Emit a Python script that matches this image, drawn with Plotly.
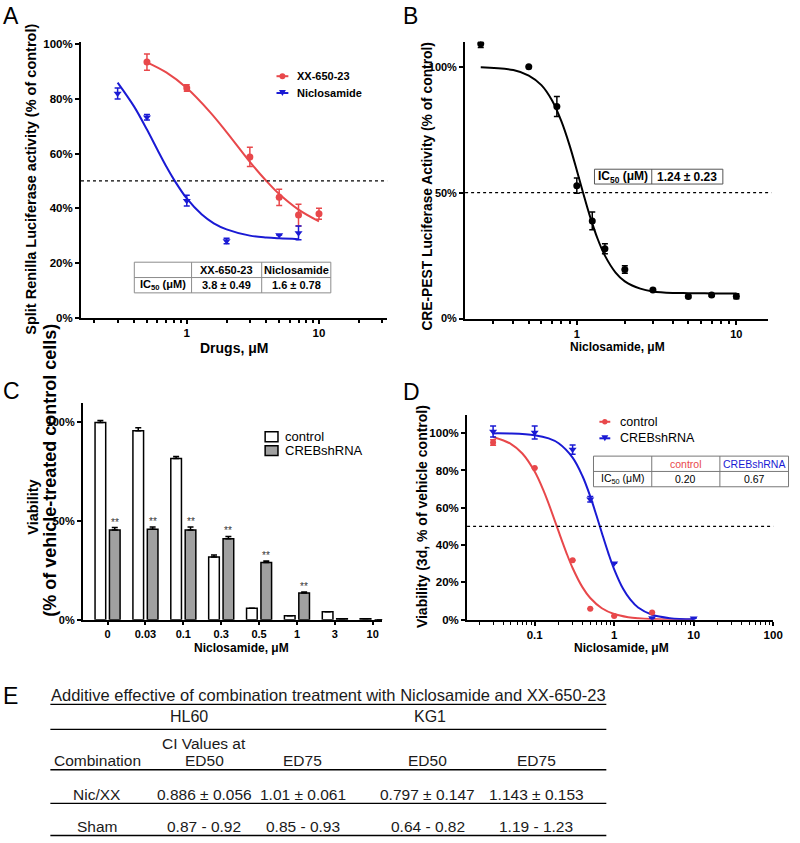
import plotly.graph_objects as go

W, H = 800, 843
FONT = "Liberation Sans, Arial, Helvetica, sans-serif"
RED = "#E8484B"
BLUE = "#1A1AD4"
GRAY = "#A0A0A0"

# ---------------- data ----------------
# Panel A
a_xx_conc = [0.5, 1, 3, 5, 7, 10]
a_xx_val = [93.5, 84.0, 58.8, 44.0, 37.5, 38.0]
a_xx_err = [3.0, 1.2, 3.5, 3.0, 4.0, 2.0]
a_xx_fit_conc = [0.5, 0.7, 1, 1.5, 2, 3, 4, 5, 7, 10]
a_xx_fit_val = [93.4, 89.7, 84.0, 75.2, 67.9, 57.0, 50.0, 45.2, 39.5, 35.2]
a_nic_conc = [0.3, 0.5, 1, 2, 5, 7]
a_nic_val = [82.0, 73.3, 42.8, 28.0, 30.2, 31.0]
a_nic_err = [2.0, 1.0, 2.0, 1.0, 0.0, 2.5]
a_nic_fit_conc = [0.3, 0.4, 0.5, 0.6, 0.7, 0.8, 1, 1.3, 1.6, 2, 3, 4, 5, 7]
a_nic_fit_val = [86.0, 77.2, 68.8, 61.4, 55.3, 50.5, 43.6, 37.7, 34.5, 32.3, 30.0, 29.3, 29.0, 28.7]
a_series = ["XX-650-23", "Niclosamide"]
a_ic50 = ["3.8 ± 0.49", "1.6 ± 0.78"]
a_x_ticks = [1, 10]
a_y_ticks = [0, 20, 40, 60, 80, 100]

# Panel B
b_conc = [0.25, 0.5, 0.75, 1.0, 1.25, 1.5, 2, 3, 5, 7, 10]
b_val = [109.1, 100.0, 84.2, 52.8, 38.8, 27.7, 19.5, 11.4, 8.8, 9.4, 8.9]
b_err = [1.5, 0.0, 4.0, 3.0, 3.5, 2.0, 1.5, 0.5, 0.5, 0.5, 1.0]
b_fit_conc = [0.25, 0.4, 0.5, 0.6, 0.7, 0.8, 0.9, 1.0, 1.1, 1.2, 1.35, 1.5, 1.75, 2, 2.5, 3, 4, 5, 7, 10]
b_fit_val = [99.8, 98.7, 96.5, 92.7, 86.6, 78.4, 68.9, 58.9, 49.5, 41.3, 31.7, 25.0, 18.3, 14.8, 11.9, 10.8, 10.2, 10.1, 10.0, 10.0]
b_ic50 = "1.24 ± 0.23"
b_x_ticks = [1, 10]
b_y_ticks = [0, 50, 100]

# Panel C
c_conc_labels = ["0", "0.03", "0.1", "0.3", "0.5", "1", "3", "10"]
c_control = [100.0, 95.8, 81.7, 31.8, 5.8, 2.0, 4.0, 0.5]
c_control_err = [1.0, 1.5, 1.0, 1.0, 0.0, 0.0, 0.0, 0.0]
c_creb = [45.5, 45.8, 45.5, 41.0, 29.0, 13.5, 0.4, 0.0]
c_creb_err = [1.2, 1.2, 1.5, 1.2, 0.7, 0.5, 0.0, 0.0]
c_signif = ["**", "**", "**", "**", "**", "**", "", ""]
c_y_ticks = [0, 50, 100]

# Panel D
d_ctrl_conc = [0.03, 0.1, 0.3, 0.5, 1, 3]
d_ctrl_val = [95.0, 81.4, 31.9, 5.8, 2.0, 3.9]
d_ctrl_err = [1.5, 0.0, 0.0, 0.0, 0.0, 0.0]
d_creb_conc = [0.03, 0.1, 0.3, 0.5, 1, 3, 10]
d_creb_val = [100.9, 100.4, 91.2, 64.6, 30.2, 0.9, 0.8]
d_creb_err = [3.0, 3.5, 2.5, 1.5, 0.0, 0.0, 0.0]
d_ctrl_fit_conc = [0.03, 0.05, 0.07, 0.1, 0.13, 0.16, 0.2, 0.25, 0.3, 0.4, 0.5, 0.7, 1, 1.5, 2, 3, 5, 10]
d_ctrl_fit_val = [98.0, 94.3, 89.1, 79.4, 68.9, 58.9, 47.3, 36.0, 27.7, 17.3, 11.6, 6.1, 3.0, 1.3, 0.7, 0.3, 0.1, 0.0]
d_creb_fit_conc = [0.03, 0.05, 0.1, 0.15, 0.2, 0.3, 0.4, 0.5, 0.6, 0.7, 0.85, 1, 1.3, 1.6, 2, 3, 5, 10]
d_creb_fit_val = [99.9, 99.8, 98.9, 97.2, 94.6, 86.9, 76.9, 66.1, 55.7, 46.5, 35.3, 27.0, 16.4, 10.7, 6.5, 2.6, 0.8, 0.15]
d_ic50 = ["0.20", "0.67"]
d_x_ticks = [0.1, 1, 10, 100]
d_y_ticks = [0, 20, 40, 60, 80, 100]

# Panel E
e_title = "Additive effective of combination treatment with Niclosamide and XX-650-23"
e_cells = ["HL60", "KG1"]
e_rows = ["Nic/XX", "Sham"]
e_hl60_ed50 = ["0.886 ± 0.056", "0.87 - 0.92"]
e_hl60_ed75 = ["1.01 ± 0.061", "0.85 - 0.93"]
e_kg1_ed50 = ["0.797 ± 0.147", "0.64 - 0.82"]
e_kg1_ed75 = ["1.143 ± 0.153", "1.19 - 1.23"]


# ---------------- helpers ----------------
def px(x):
    return x / W


def py(y):
    return 1 - y / H


annotations = []
shapes = []


def ann(text, x, y, size, bold=False, color="black", xanchor="center", angle=0):
    annotations.append(dict(
        text=text, x=px(x), y=py(y), xref="paper", yref="paper", showarrow=False,
        xanchor=xanchor, yanchor="middle", textangle=angle,
        font=dict(family=FONT, size=size, color=color, weight="bold" if bold else "normal"),
    ))


def hline(x0, x1, y, color="black", width=1.0, dash="solid"):
    shapes.append(dict(type="line", xref="paper", yref="paper", x0=px(x0), x1=px(x1),
                       y0=py(y), y1=py(y), line=dict(color=color, width=width, dash=dash)))


def vline(x, y0, y1, color="black", width=1.0):
    shapes.append(dict(type="line", xref="paper", yref="paper", x0=px(x), x1=px(x),
                       y0=py(y0), y1=py(y1), line=dict(color=color, width=width)))


def grid(xe, ye, color, width=1.0):
    for y in ye:
        hline(xe[0], xe[-1], y, color, width)
    for x in xe:
        vline(x, ye[0], ye[-1], color, width)


def log_minor(decades):
    vals = []
    for d in decades:
        for k in range(2, 10):
            vals.append(round(k * d, 6))
    return vals


def pct(vals):
    return [f"{v}%" for v in vals]


axis_base = dict(showline=True, linecolor="black", linewidth=2, ticks="outside",
                 ticklen=4, tickwidth=2, tickcolor="black", showgrid=False,
                 zeroline=False, mirror=False)


def tfont(size):
    return dict(family=FONT, size=size, color="black", weight="bold")


fig = go.Figure()

# ---------------- Panel A ----------------
fig.add_trace(go.Scatter(x=a_xx_fit_conc, y=a_xx_fit_val, mode="lines",
                         line=dict(color=RED, width=2, shape="spline"),
                         xaxis="x", yaxis="y", showlegend=False, hoverinfo="skip"))
fig.add_trace(go.Scatter(x=a_nic_fit_conc, y=a_nic_fit_val, mode="lines",
                         line=dict(color=BLUE, width=2, shape="spline"),
                         xaxis="x", yaxis="y", showlegend=False, hoverinfo="skip"))
fig.add_trace(go.Scatter(x=a_xx_conc, y=a_xx_val, mode="markers", name=a_series[0],
                         marker=dict(color=RED, size=7, symbol="circle"),
                         error_y=dict(type="data", array=a_xx_err, color=RED, thickness=1.5, width=3),
                         xaxis="x", yaxis="y", showlegend=False))
fig.add_trace(go.Scatter(x=a_nic_conc, y=a_nic_val, mode="markers", name=a_series[1],
                         marker=dict(color=BLUE, size=7, symbol="triangle-down"),
                         error_y=dict(type="data", array=a_nic_err, color=BLUE, thickness=1.5, width=3),
                         xaxis="x", yaxis="y", showlegend=False))

# ---------------- Panel B ----------------
fig.add_trace(go.Scatter(x=b_fit_conc, y=b_fit_val, mode="lines",
                         line=dict(color="black", width=2, shape="spline"),
                         xaxis="x2", yaxis="y2", showlegend=False, hoverinfo="skip"))
fig.add_trace(go.Scatter(x=b_conc, y=b_val, mode="markers", name="Niclosamide",
                         marker=dict(color="black", size=7),
                         error_y=dict(type="data", array=b_err, color="black", thickness=1.5, width=3),
                         xaxis="x2", yaxis="y2", showlegend=False))

# ---------------- Panel C ----------------
fig.add_trace(go.Bar(x=c_conc_labels, y=c_control, name="control",
                     marker=dict(color="white", line=dict(color="black", width=1.5)),
                     error_y=dict(type="data", symmetric=False, array=c_control_err,
                                  arrayminus=[0] * len(c_control_err), color="black", thickness=1.5, width=3),
                     xaxis="x3", yaxis="y3", showlegend=False))
fig.add_trace(go.Bar(x=c_conc_labels, y=c_creb, name="CREBshRNA",
                     marker=dict(color=GRAY, line=dict(color="black", width=1.5)),
                     error_y=dict(type="data", symmetric=False, array=c_creb_err,
                                  arrayminus=[0] * len(c_creb_err), color="black", thickness=1.5, width=3),
                     xaxis="x3", yaxis="y3", showlegend=False))
for i, (v, e, s) in enumerate(zip(c_creb, c_creb_err, c_signif)):
    if s:
        annotations.append(dict(text=s, x=i, y=v + e, xref="x3", yref="y3", xshift=7.3, yshift=-2,
                                yanchor="bottom", showarrow=False,
                                font=dict(family=FONT, size=10, color="#333333")))

# ---------------- Panel D ----------------
fig.add_trace(go.Scatter(x=d_ctrl_fit_conc, y=d_ctrl_fit_val, mode="lines",
                         line=dict(color=RED, width=2, shape="spline"),
                         xaxis="x4", yaxis="y4", showlegend=False, hoverinfo="skip"))
fig.add_trace(go.Scatter(x=d_creb_fit_conc, y=d_creb_fit_val, mode="lines",
                         line=dict(color=BLUE, width=2, shape="spline"),
                         xaxis="x4", yaxis="y4", showlegend=False, hoverinfo="skip"))
fig.add_trace(go.Scatter(x=d_ctrl_conc, y=d_ctrl_val, mode="markers", name="control",
                         marker=dict(color=RED, size=6),
                         error_y=dict(type="data", array=d_ctrl_err, color=RED, thickness=1.5, width=3),
                         xaxis="x4", yaxis="y4", showlegend=False))
fig.add_trace(go.Scatter(x=d_creb_conc, y=d_creb_val, mode="markers", name="CREBshRNA",
                         marker=dict(color=BLUE, size=7, symbol="triangle-down"),
                         error_y=dict(type="data", array=d_creb_err, color=BLUE, thickness=1.5, width=3),
                         xaxis="x4", yaxis="y4", showlegend=False))

# ---------------- axes ----------------
layout_axes = dict(
    xaxis=dict(axis_base, type="log", domain=[px(82), px(392)], anchor="y", range=[-0.80, 1.515],
               tickmode="array", tickvals=a_x_ticks, ticktext=[str(v) for v in a_x_ticks],
               tickfont=tfont(11.5),
               minor=dict(tickmode="array", tickvals=log_minor([0.1, 1, 10])[:-6], ticks="outside",
                          ticklen=3, tickwidth=1.5, tickcolor="black")),
    yaxis=dict(axis_base, domain=[py(318), py(39)], anchor="x", range=[0, 101],
               tickmode="array", tickvals=a_y_ticks, ticktext=pct(a_y_ticks), tickfont=tfont(11.5)),
    xaxis2=dict(axis_base, type="log", domain=[px(471), px(778)], anchor="y2", range=[-0.70, 1.2],
                tickmode="array", tickvals=b_x_ticks, ticktext=[str(v) for v in b_x_ticks],
                tickfont=tfont(11),
                minor=dict(tickmode="array", tickvals=log_minor([0.1, 1])[1:], ticks="outside",
                           ticklen=3, tickwidth=1.5, tickcolor="black")),
    yaxis2=dict(axis_base, domain=[py(319), py(39)], anchor="x2", range=[0, 110],
                tickmode="array", tickvals=b_y_ticks, ticktext=pct(b_y_ticks), tickfont=tfont(11)),
    xaxis3=dict(axis_base, type="category", domain=[px(84), px(387)], anchor="y3", range=[-0.65, 7.25],
                ticklen=3, tickfont=tfont(11)),
    yaxis3=dict(axis_base, domain=[py(623.3), py(404)], anchor="x3", range=[0, 110],
                tickmode="array", tickvals=c_y_ticks, ticktext=pct(c_y_ticks), tickfont=tfont(11)),
    xaxis4=dict(axis_base, type="log", domain=[px(473), px(783)], anchor="y4", range=[-1.85, 2.0],
                tickmode="array", tickvals=d_x_ticks, ticktext=[str(v) for v in d_x_ticks],
                tickfont=tfont(11.5),
                minor=dict(tickmode="array", tickvals=log_minor([0.01, 0.1, 1, 10]), ticks="outside",
                           ticklen=3, tickwidth=1.2, tickcolor="black")),
    yaxis4=dict(axis_base, domain=[py(623.3), py(416)], anchor="x4", range=[0, 110],
                tickmode="array", tickvals=d_y_ticks, ticktext=pct(d_y_ticks), tickfont=tfont(11.5)),
)

# 50% dotted reference lines
for xr, yr, x1 in (("x domain", "y", 1.0), ("x2 domain", "y2", 1.01), ("x4 domain", "y4", 1.0)):
    shapes.append(dict(type="line", xref=xr, yref=yr, x0=0, x1=x1, y0=50, y1=50,
                       line=dict(color="black", width=1.2, dash="dot")))

# ---------------- panel letters ----------------
ann("A", 1, 13, 23, xanchor="left")
ann("B", 406, 13, 23, xanchor="left")
ann("C", 1, 392, 23, xanchor="left")
ann("D", 406, 393, 23, xanchor="left")
ann("E", 1, 700, 23, xanchor="left")

# ---------------- axis titles ----------------
ann("Split Renilla Luciferase activity (% of control)", 31, 178, 14.5, bold=True, angle=-90)
ann("Drugs, μM", 237, 349, 14, bold=True)
ann("CRE-PEST Luciferase Activity (% of control)", 432, 185, 13.8, bold=True, angle=-90)
ann("Niclosamide, μM", 625, 348, 12, bold=True)
ann("Viability", 32.5, 510, 14.5, bold=True, angle=-90)
ann("(% of vehicle-treated control cells)", 50.5, 472, 18, bold=True, angle=-90)
ann("Niclosamide, μM", 245, 652, 12, bold=True)
ann("Viability (3d, % of vehicle control)", 428, 519, 14, bold=True, angle=-90)
ann("Niclosamide, μM", 629, 652, 12, bold=True)

# ---------------- legends ----------------
# A
hline(280, 292, 74, RED, 2)
shapes.append(dict(type="circle", xref="paper", yref="paper", x0=px(283), x1=px(289), y0=py(77), y1=py(71),
                   fillcolor=RED, line=dict(color=RED, width=0)))
hline(280, 292, 91, BLUE, 2)
shapes.append(dict(type="path", xref="paper", yref="paper",
                   path=f"M {px(282.5)},{py(88)} L {px(289.5)},{py(88)} L {px(286)},{py(94)} Z",
                   fillcolor=BLUE, line=dict(color=BLUE, width=0)))
ann(a_series[0], 299, 74, 11, bold=True, xanchor="left")
ann(a_series[1], 299, 91, 11, bold=True, xanchor="left")

# C
shapes.append(dict(type="rect", xref="paper", yref="paper", x0=px(268.5), x1=px(281.5), y0=py(443.5), y1=py(433.5),
                   fillcolor="white", line=dict(color="black", width=1.5)))
shapes.append(dict(type="rect", xref="paper", yref="paper", x0=px(268.5), x1=px(281.5), y0=py(457.5), y1=py(447.5),
                   fillcolor=GRAY, line=dict(color="black", width=1.5)))
ann("control", 287, 438.5, 13, xanchor="left")
ann("CREBshRNA", 287, 452.5, 13, xanchor="left")

# D
hline(607, 618, 423.3, RED, 2)
shapes.append(dict(type="circle", xref="paper", yref="paper", x0=px(609.8), x1=px(615.2), y0=py(426), y1=py(420.6),
                   fillcolor=RED, line=dict(color=RED, width=0)))
hline(607, 618, 440, BLUE, 2)
shapes.append(dict(type="path", xref="paper", yref="paper",
                   path=f"M {px(609)},{py(437)} L {px(616)},{py(437)} L {px(612.5)},{py(443)} Z",
                   fillcolor=BLUE, line=dict(color=BLUE, width=0)))
ann("control", 626, 423.3, 12.5, xanchor="left")
ann("CREBshRNA", 626, 440, 12.5, xanchor="left")

# ---------------- in-plot IC50 tables ----------------
# A
grid([136, 194, 265, 335], [262, 277.5, 293], "#8c8c8c", 1)
ann(a_series[0], 229.5, 270, 11, bold=True)
ann(a_series[1], 300, 270, 11, bold=True)
ann("IC<sub>50</sub> (μM)", 165, 285.5, 11, bold=True)
ann(a_ic50[0], 229.5, 285.5, 11, bold=True)
ann(a_ic50[1], 300, 285.5, 11, bold=True)

# B
grid([602, 660, 732], [168, 183], "#555555", 1)
ann("IC<sub>50</sub> (μM)", 631, 175.5, 12, bold=True)
ann(b_ic50, 696, 175.5, 12, bold=True)

# D
grid([601, 660, 729, 798.5], [458, 473.5, 489], "#777777", 1)
ann("control", 694.5, 465.7, 10.5, color=RED)
ann("CREBshRNA", 764, 465.7, 10.5, color=BLUE)
ann("IC<sub>50</sub> (μM)", 630.5, 481.2, 10.5)
ann(d_ic50[0], 694.5, 481.2, 10.5)
ann(d_ic50[1], 764, 481.2, 10.5)

# ---------------- Panel E table ----------------
E_SIZE = 15.5
ann(e_title, 333, 699, 16.5, color="#1a1a1a")
for y in (709, 734.3, 775, 809, 841.5):
    hline(51, 614, y, "black", 1.3)
ann(e_cells[0], 191.5, 721.7, E_SIZE + 0.5, color="#1a1a1a")
ann(e_cells[1], 435, 721.7, E_SIZE + 0.5, color="#1a1a1a")
ann("CI Values at", 206.7, 748.3, E_SIZE, color="#1a1a1a")
col_x = [98.3, 206.7, 306.7, 433.3, 543]
for x, t in zip(col_x, ["Combination", "ED50", "ED75", "ED50", "ED75"]):
    ann(t, x, 765.7, E_SIZE, color="#1a1a1a")
for i, yy in enumerate((800, 832.7)):
    row = [e_rows[i], e_hl60_ed50[i], e_hl60_ed75[i], e_kg1_ed50[i], e_kg1_ed75[i]]
    for x, t in zip(col_x, row):
        ann(t, x, yy, E_SIZE, color="#1a1a1a")

fig.update_layout(
    width=W, height=H, autosize=False,
    margin=dict(l=0, r=0, t=0, b=0),
    paper_bgcolor="white", plot_bgcolor="white",
    barmode="group", bargap=0.24, bargroupgap=0.26,
    showlegend=False, hovermode=False,
    annotations=annotations, shapes=shapes,
    font=dict(family=FONT, color="black"),
    **layout_axes,
)

fig.write_html("out.html", config={"displayModeBar": False},
               post_script="document.body.style.margin='0';document.body.style.overflow='hidden';")
